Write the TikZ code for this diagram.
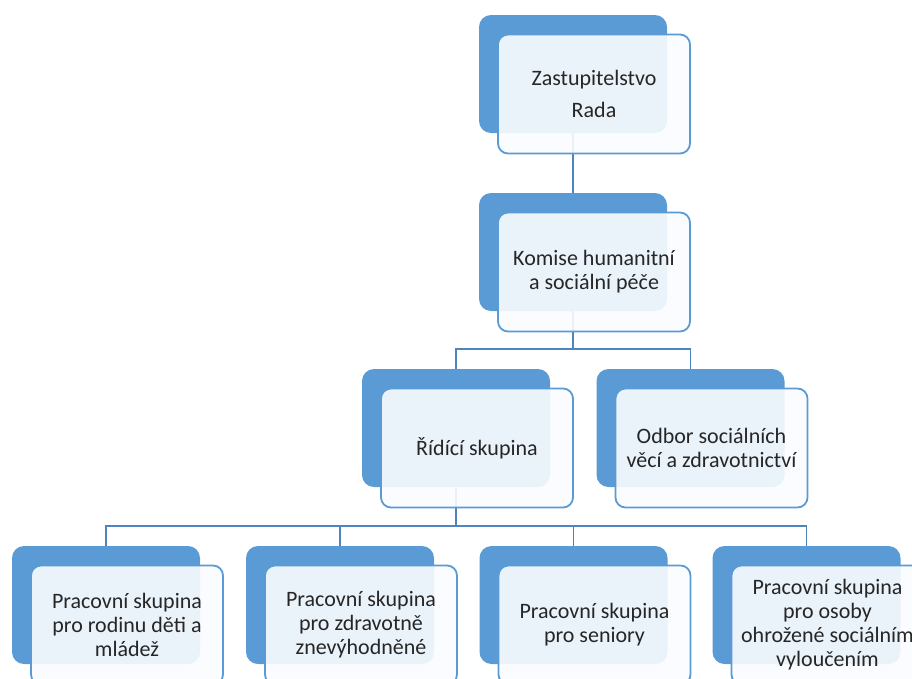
\documentclass[tikz,border=0pt]{standalone}
\usepackage{fontspec}
\setmainfont{Carlito}
\usepackage{tikz}
\usetikzlibrary{positioning}
\definecolor{backblue}{RGB}{91,155,213}
\definecolor{lineblue}{RGB}{80,132,190}
\definecolor{frontfill}{RGB}{250,252,255}

\begin{document}
\begin{tikzpicture}[x=1pt,y=-1pt]
\tikzstyle{every node}=[font=\fontsize{22}{24}\selectfont]
\tikzstyle{back}=[fill=backblue, draw=none, rounded corners=12pt, minimum width=188pt, minimum height=118pt]
\tikzstyle{front}=[fill=frontfill, fill opacity=0.9, text opacity=1, draw=backblue, line width=1.8pt, rounded corners=10pt, minimum width=192pt, minimum height=119pt, align=center, text=black!85]
\tikzstyle{link}=[draw=lineblue, line width=1.8pt]
\useasboundingbox (0,0) rectangle (912,678);
% back boxes
\node (zast) [back] at (573,74) {};
\node (komise) [back] at (573,252) {};
\node (ridici) [back] at (456,428) {};
\node (odbor) [back] at (690.5,428) {};
\node (rodina) [back] at (106,605) {};
\node (zdrav) [back] at (340,605) {};
\node (senior) [back] at (573.5,605) {};
\node (vylouc) [back] at (806.5,605) {};
% connectors
\draw [link] (zast.south) -- (komise.north);
\draw [link] (komise.south) -- ++(0,38) -| (ridici.north);
\draw [link] (komise.south) -- ++(0,38) -| (odbor.north);
\draw [link] (ridici.south) -- ++(0,39) -| (rodina.north);
\draw [link] (ridici.south) -- ++(0,39) -| (zdrav.north);
\draw [link] (ridici.south) -- ++(0,39) -| (senior.north);
\draw [link] (ridici.south) -- ++(0,39) -| (vylouc.north);
% front boxes
\node (zastF) [front] at ([shift={(21,20)}]zast.center) {Zastupitelstvo\\[8pt]Rada};
\node (komiseF) [front] at ([shift={(21,20)}]komise.center) {Komise humanitní\\a sociální péče};
\node (ridiciF) [front] at ([shift={(21,20)}]ridici.center) {Řídící skupina};
\node (odborF) [front] at ([shift={(21,20)}]odbor.center) {Odbor sociálních\\věcí a zdravotnictví};
\node (rodinaF) [front] at ([shift={(21,20)}]rodina.center) {Pracovní skupina\\pro rodinu děti a\\mládež};
\node (zdravF) [front] at ([shift={(21,20)}]zdrav.center) {Pracovní skupina\\pro zdravotně\\znevýhodněné};
\node (seniorF) [front] at ([shift={(21,20)}]senior.center) {Pracovní skupina\\pro seniory};
\node (vyloucF) [front] at ([shift={(21,20)}]vylouc.center) {Pracovní skupina\\pro osoby\\ohrožené sociálním\\vyloučením};
\end{tikzpicture}
\end{document}
